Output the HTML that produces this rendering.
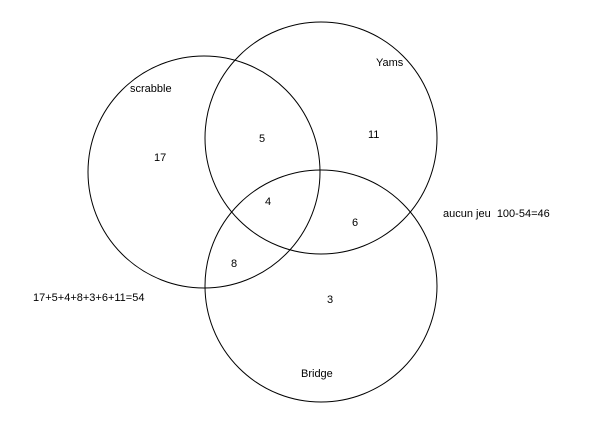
<!DOCTYPE html>
<html><head><meta charset="utf-8"><style>
html,body{margin:0;padding:0;background:#fff;}
svg{display:block;}
text{font-family:"Liberation Sans",Arial,sans-serif;font-size:11px;fill:#000;white-space:pre;}
</style></head><body>
<svg width="611" height="425" viewBox="0 0 611 425" xmlns="http://www.w3.org/2000/svg">
<g fill="none" stroke="#000" stroke-width="1">
<circle cx="204" cy="172" r="116"/>
<circle cx="321" cy="138" r="116"/>
<circle cx="321" cy="286" r="116"/>
</g>
<text x="130" y="92">scrabble</text>
<text x="376" y="66">Yams</text>
<text x="154" y="161">17</text>
<text x="259" y="142">5</text>
<text x="368" y="138">11</text>
<text x="265" y="205">4</text>
<text x="352" y="226">6</text>
<text x="231" y="267">8</text>
<text x="327" y="303">3</text>
<text x="301" y="377">Bridge</text>
<text x="443" y="217">aucun jeu  100-54=46</text>
<text x="33" y="301">17+5+4+8+3+6+11=54</text>
</svg>
</body></html>
